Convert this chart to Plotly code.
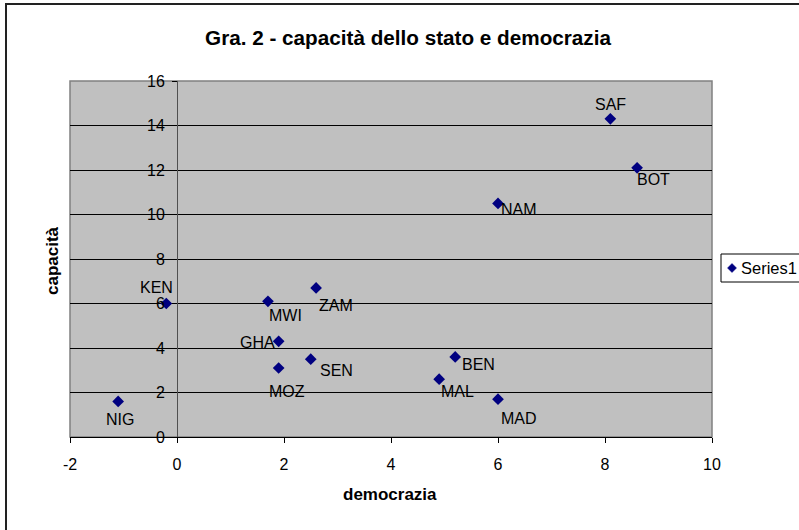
import plotly.graph_objects as go

countries = ["SAF", "BOT", "NAM", "KEN", "MWI", "ZAM", "GHA", "SEN", "MOZ", "BEN", "MAL", "MAD", "NIG"]
democrazia = [8.1, 8.6, 6.0, -0.2, 1.7, 2.6, 1.9, 2.5, 1.9, 5.2, 4.9, 6.0, -1.1]
capacita = [14.3, 12.1, 10.5, 6.0, 6.1, 6.7, 4.3, 3.5, 3.1, 3.6, 2.6, 1.7, 1.6]
x_ticks = [-2, 0, 2, 4, 6, 8, 10]
y_ticks = [0, 2, 4, 6, 8, 10, 12, 14, 16]
series_name = "Series1"

# label offsets (pixels) for the data labels
label_dx = [0, 16, 21, -10, 18, 20, -21, 26, 8, 23, 18, 21, 2]
label_dy = [-14, 12, 6, -16, 14, 18, 1, 11, 23, 8, 12, 19, 18]

W, H = 799, 530
L, R, T, B = 70, 712, 81, 437
pw, ph = R - L, B - T

def px(x):
    return (x - L) / pw

def py(y):
    return (B - y) / ph

FONT = "Liberation Sans, Arial, sans-serif"
NAVY = "#000080"

fig = go.Figure()
fig.add_trace(go.Scatter(
    x=democrazia, y=capacita, mode="markers", name=series_name,
    marker=dict(symbol="diamond", size=9, color=NAVY),
    cliponaxis=False, showlegend=False,
))

for c, xv, yv, dx, dy in zip(countries, democrazia, capacita, label_dx, label_dy):
    fig.add_annotation(x=xv, y=yv, text=c, showarrow=False, xshift=dx, yshift=-dy,
                       xanchor="center", yanchor="middle",
                       font=dict(family=FONT, size=16, color="black"))

fig.add_annotation(xref="paper", yref="paper", x=px(390), y=py(494), text="<b>democrazia</b>",
                   showarrow=False, xanchor="center", yanchor="middle",
                   font=dict(family=FONT, size=17, color="black"))
fig.add_annotation(xref="paper", yref="paper", x=px(52), y=py(261), text="<b>capacità</b>",
                   showarrow=False, textangle=-90, xanchor="center", yanchor="middle",
                   font=dict(family=FONT, size=17, color="black"))

# plot area border
fig.add_shape(type="rect", xref="paper", yref="paper", x0=0, y0=0, x1=1, y1=1,
              line=dict(color="#808080", width=1.5), layer="below")
# outer chart frame
fig.add_shape(type="rect", xref="paper", yref="paper", x0=px(6), y0=py(545), x1=px(815), y1=py(4),
              line=dict(color="#222222", width=2))

# legend box (drawn manually so it can run off the right edge like the reference)
fig.add_shape(type="rect", xref="paper", yref="paper", x0=px(721), y0=py(282), x1=px(830), y1=py(254),
              line=dict(color="black", width=1), fillcolor="white")
cx, cy, r = 732, 268, 4.5
fig.add_shape(type="path", xref="paper", yref="paper",
              path=f"M {px(cx - r)},{py(cy)} L {px(cx)},{py(cy - r)} L {px(cx + r)},{py(cy)} L {px(cx)},{py(cy + r)} Z",
              line=dict(color=NAVY, width=0.5), fillcolor=NAVY)
fig.add_annotation(xref="paper", yref="paper", x=px(739), y=py(268), text=series_name,
                   showarrow=False, xanchor="left", yanchor="middle",
                   font=dict(family=FONT, size=16.5, color="black"))

fig.update_layout(
    width=W, height=H,
    margin=dict(l=L, r=W - R, t=T, b=H - B, pad=0, autoexpand=False),
    paper_bgcolor="white", plot_bgcolor="#C0C0C0",
    font=dict(family=FONT, size=16, color="black"),
    title=dict(text="<b>Gra. 2 - capacità dello stato e democrazia</b>",
               xref="container", yref="container", x=408 / W, y=1 - 38 / H,
               xanchor="center", yanchor="middle",
               font=dict(family=FONT, size=20.7, color="black")),
    showlegend=False,
    xaxis=dict(range=[-2, 10], tickvals=x_ticks, ticktext=[str(v) for v in x_ticks],
               showgrid=False, zeroline=False, showline=True, linecolor="black", linewidth=1,
               ticks="outside", ticklen=5, tickcolor="black", tickwidth=1,
               ticklabelstandoff=8, fixedrange=True),
    yaxis=dict(range=[0, 16], tickvals=y_ticks, ticktext=[str(v) for v in y_ticks],
               anchor="free", position=1 / 6,
               showgrid=True, gridcolor="black", gridwidth=1, zeroline=False,
               showline=True, linecolor="#505050", linewidth=1,
               ticks="outside", ticklen=5, tickcolor="black", tickwidth=1,
               ticklabelstandoff=4, fixedrange=True),
)

fig.write_html("out.html", config={"displayModeBar": False},
               post_script="document.body.style.margin='0';")
